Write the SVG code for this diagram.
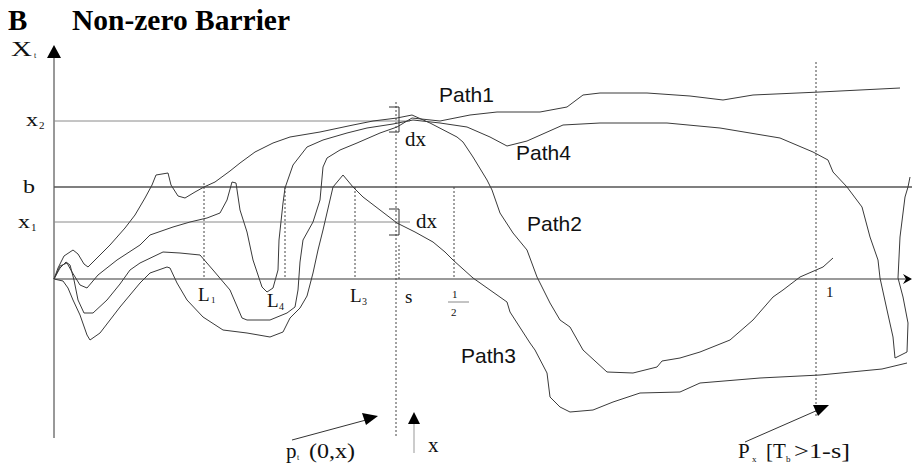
<svg xmlns="http://www.w3.org/2000/svg" width="912" height="465" viewBox="0 0 912 465">
  <style>
    .serif { font-family: "Liberation Serif", "Times New Roman", serif; fill: #111; }
    .sans { font-family: "Liberation Sans", Arial, sans-serif; fill: #111; }
    .title { font-family: "Liberation Serif", "Times New Roman", serif; font-weight: bold; font-size: 29px; fill: #000; }
    .curve { fill: none; stroke: #3a3a3a; stroke-width: 1; stroke-linejoin: round; }
    .dot { fill: none; stroke: #444; stroke-width: 1; stroke-dasharray: 2 2; }
    .level { stroke: #8a8a8a; stroke-width: 1; }
    .tick { fill: none; stroke: #333; stroke-width: 1; }
    .head { fill: #000; }
  </style>

  <!-- heading -->
  <g id="title">
    <text class="title" x="8" y="30">B</text>
    <text class="title" x="72" y="30" textLength="218" lengthAdjust="spacingAndGlyphs">Non-zero Barrier</text>
  </g>

  <!-- coordinate axes -->
  <g id="axes">
    <line x1="54" y1="56" x2="54" y2="438" stroke="#333" stroke-width="1"/>
    <polygon class="head" points="54,45 47,58 61,58"/>
    <line x1="54" y1="279" x2="906" y2="279" stroke="#9a9a9a" stroke-width="2"/>
    <polygon class="head" points="912,279 903,274 906,279 903,284"/>
  </g>

  <!-- reference levels x2, b, x1 -->
  <g id="levels">
    <line class="level" x1="54" y1="121" x2="410" y2="121"/>
    <line x1="54" y1="187" x2="912" y2="187" stroke="#555" stroke-width="1.5"/>
    <line class="level" x1="54" y1="222" x2="410" y2="222"/>
  </g>

  <!-- dotted verticals -->
  <g id="guides">
    <line class="dot" x1="204" y1="183" x2="204" y2="279"/>
    <line class="dot" x1="285" y1="187" x2="285" y2="279"/>
    <line class="dot" x1="355" y1="187" x2="355" y2="279"/>
    <line class="dot" x1="396" y1="102" x2="396" y2="438"/>
    <line class="dot" x1="399" y1="245" x2="399" y2="280"/>
    <line class="dot" x1="454" y1="187" x2="454" y2="279"/>
    <line class="dot" x1="816" y1="62" x2="816" y2="418"/>
  </g>

  <!-- dx brackets -->
  <g id="brackets">
    <polyline class="tick" points="389,107 399,107 399,132 389,132"/>
    <polyline class="tick" points="389,209 399,209 399,235 389,235"/>
  </g>

  <!-- sample paths -->
  <g id="sample-paths">
    <path id="curve-a" class="curve" d="M54,279 L58,268 L64,256 L73,250 L78,254 L84,264 L88,267 L95,260 L110,245 L125,228 L135,215 L145,198 L152,185 L156,175 L168,173 L171,185 L178,196 L185,198 L195,192 L204,187 L215,182 L230,171 L240,163 L255,152 L273,143 L290,137 L320,132 L353,125 L373,121 L397,118 L412,115 L430,123 L457,137 L463,142 L473,157 L487,180 L492,190 L500,213 L513,233 L527,250 L537,277 L550,303 L560,320 L570,327 L583,350 L607,372 L633,373 L657,367 L662,361 L680,358 L700,352 L730,340 L753,320 L773,297 L783,290 L800,277 L823,267 L833,258"/>
    <path id="curve-b" class="curve" d="M54,279 L60,266 L67,263 L72,272 L80,285 L87,288 L98,275 L117,260 L140,245 L150,235 L173,227 L190,222 L207,218 L220,213 L227,200 L232,182 L236,183 L240,210 L247,232 L253,260 L258,275 L262,287 L267,292 L273,288 L278,270 L279,240 L283,203 L285,188 L293,165 L307,147 L323,140 L347,133 L367,128 L393,124 L413,120 L440,123 L467,127 L490,137 L507,146 L527,141 L563,125 L600,123 L667,123 L720,128 L780,138 L813,152 L828,160 L833,172 L847,187 L862,207 L870,237 L878,260 L880,278 L887,310 L893,337 L895,358 L907,352 L908,323 L903,297 L898,278 L900,237 L905,197 L908,187 L910,177"/>
    <path id="curve-c" class="curve" d="M54,279 L60,268 L66,262 L70,265 L74,280 L78,300 L84,313 L93,313 L107,300 L120,284 L130,270 L140,263 L163,252 L180,253 L200,255 L213,270 L230,290 L242,318 L247,320 L270,320 L287,313 L295,307 L298,290 L300,262 L303,240 L313,222 L320,200 L323,167 L327,158 L340,150 L357,143 L380,133 L397,127 L412,118 L440,121 L470,115 L497,112 L540,112 L567,107 L583,95 L600,93 L647,93 L690,96 L723,100 L753,95 L820,92 L900,88"/>
    <path id="curve-d" class="curve" d="M54,279 L63,281 L68,288 L73,300 L80,315 L87,335 L90,340 L100,333 L120,307 L140,283 L150,273 L167,267 L170,268 L177,283 L187,300 L203,317 L223,330 L247,333 L270,337 L283,332 L290,318 L300,308 L307,296 L313,273 L318,250 L323,230 L333,187 L343,175 L353,187 L363,197 L380,210 L397,223 L415,232 L433,242 L445,252 L453,260 L473,278 L490,290 L507,302 L510,312 L530,343 L535,350 L547,373 L550,397 L560,407 L570,412 L593,410 L613,402 L640,393 L680,392 L700,383 L760,378 L820,375 L882,369 L907,363"/>
  </g>

  <!-- axis and level labels -->
  <g id="labels" class="serif">
    <text x="11" y="56" font-size="21" textLength="21" lengthAdjust="spacingAndGlyphs">X</text>
    <text x="34" y="58" font-size="8">t</text>
    <text x="26" y="126" font-size="19" textLength="12" lengthAdjust="spacingAndGlyphs">x</text>
    <text x="39" y="129" font-size="11">2</text>
    <text x="23" y="193" font-size="19" textLength="12" lengthAdjust="spacingAndGlyphs">b</text>
    <text x="18" y="228" font-size="19" textLength="12" lengthAdjust="spacingAndGlyphs">x</text>
    <text x="31" y="231" font-size="11">1</text>

    <text x="198" y="301" font-size="19">L</text>
    <text x="211" y="303" font-size="9">1</text>
    <text x="267" y="307" font-size="19">L</text>
    <text x="279" y="310" font-size="10">4</text>
    <text x="350" y="302" font-size="19">L</text>
    <text x="362" y="305" font-size="10">3</text>
    <text x="405" y="303" font-size="19">s</text>
    <text x="452" y="298" font-size="11">1</text>
    <line x1="448" y1="302" x2="469" y2="302" stroke="#888" stroke-width="1"/>
    <text x="451" y="316" font-size="11">2</text>
    <text x="826" y="297" font-size="15">1</text>

    <text x="405" y="146" font-size="21">dx</text>
    <text x="416" y="228" font-size="21">dx</text>
  </g>

  <!-- path names -->
  <g id="path-names" class="sans" font-size="21">
    <text x="439" y="102">Path1</text>
    <text x="516" y="160">Path4</text>
    <text x="527" y="231">Path2</text>
    <text x="461" y="363">Path3</text>
  </g>

  <!-- pointer arrows and their captions -->
  <g id="pointers">
    <line x1="292" y1="440" x2="366" y2="420" stroke="#333" stroke-width="1"/>
    <polygon class="head" points="378,416 362,413 366,425"/>
    <line x1="414" y1="423" x2="414" y2="453" stroke="#999" stroke-width="1"/>
    <polygon class="head" points="414,412 408,424 420,424"/>
    <line x1="745" y1="442" x2="818" y2="410" stroke="#333" stroke-width="1"/>
    <polygon class="head" points="829,405 813,405 818,416"/>
  </g>
  <g id="captions" class="serif" font-size="21">
    <text x="286" y="458">p</text>
    <text x="297" y="460" font-size="8">t</text>
    <text x="309" y="458" textLength="46" lengthAdjust="spacingAndGlyphs">(0,x)</text>
    <text x="428" y="452">x</text>
    <text x="738" y="458">P</text>
    <text x="752" y="462" font-size="9">x</text>
    <text x="766" y="458">[T</text>
    <text x="786" y="462" font-size="9">b</text>
    <text x="794" y="458" textLength="56" lengthAdjust="spacingAndGlyphs">&gt;1-s]</text>
  </g>
</svg>
